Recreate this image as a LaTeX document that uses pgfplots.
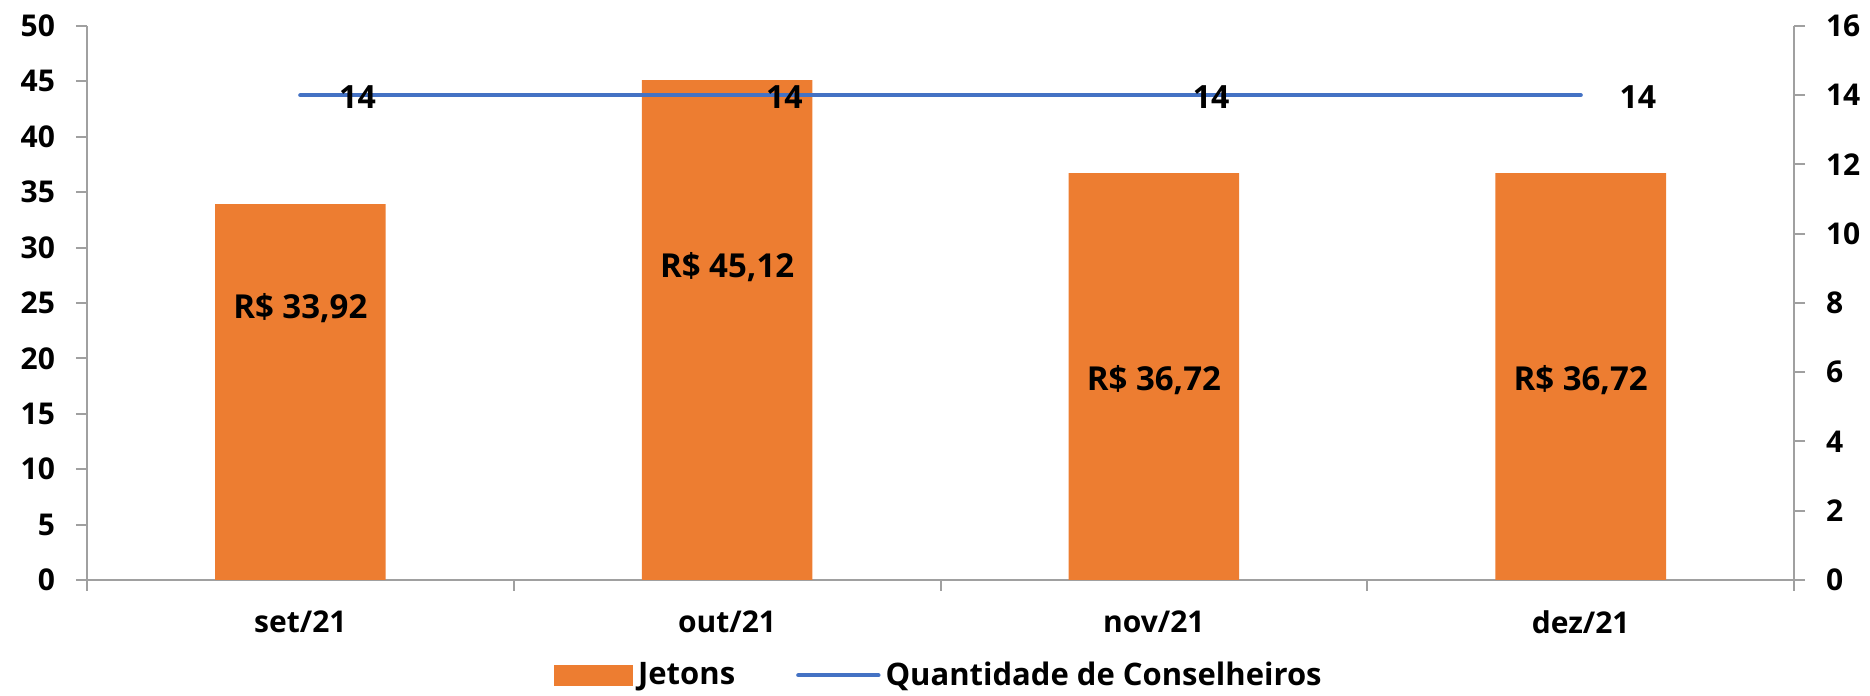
\documentclass[border=0pt]{standalone}
\usepackage{fontspec}
\setmainfont{Open Sans}
\usepackage{pgfplots}
\pgfplotsset{compat=1.18}
\definecolor{barorange}{HTML}{ED7D31}
\definecolor{lineblue}{HTML}{4472C4}
\definecolor{axgray}{HTML}{A0A0A0}

\begin{document}
\begin{tikzpicture}
\pgfplotsset{
  every axis/.append style={
    width=853.5pt, height=277pt, scale only axis,
    xmin=0, xmax=4,
    font=\fontsize{15}{17}\selectfont\bfseries,
    /pgf/number format/assume math mode=true,
    axis line style={axgray, line width=1pt},
    tick style={axgray, line width=1pt},
    tick align=outside,
    major tick length=5.5pt,
  }
}
% bars, left axis
\begin{axis}[
  ymin=0, ymax=50, ytick={0,5,...,50},
  axis y line*=left, axis x line*=bottom,
  xtick={0,1,2,3,4}, xticklabels={,,,,},
  extra x ticks={0.5,1.5,2.5,3.5},
  extra x tick labels={set/21,out/21,nov/21,dez/21},
  extra x tick style={major tick length=0pt, tick label style={yshift=-12pt}},
  yticklabel style={xshift=-7pt},
]
\addplot[ybar, bar width=0.4, fill=barorange, draw=none] coordinates {
  (0.5,33.92) (1.5,45.12) (2.5,36.72) (3.5,36.72)
};
\coordinate (sw) at (rel axis cs:0,0);
\coordinate (ne) at (rel axis cs:1,1);
\begin{scope}[every node/.style={font=\fontsize{16.5}{18}\selectfont\bfseries}]
\node at (axis cs:0.5,24.5) {R\$ 33,92};
\node at (axis cs:1.5,28.2) {R\$ 45,12};
\node at (axis cs:2.5,18.0) {R\$ 36,72};
\node at (axis cs:3.5,18.0) {R\$ 36,72};
\end{scope}
\end{axis}
% line, right axis
\begin{axis}[
  ymin=0, ymax=16, ytick={0,2,...,16},
  axis y line*=right, axis x line=none,
  yticklabel style={xshift=7pt},
  legend style={at={(0.5,-0.172)}, anchor=center, draw=none,
    legend columns=2, font=\fontsize{15.5}{17}\selectfont\bfseries,
    /tikz/every even column/.append style={column sep=28pt},
    nodes={inner xsep=2.5pt, inner ysep=1pt}},
]
\addlegendimage{legend image code/.code={\fill[barorange] (0pt,-5pt) rectangle (39pt,5pt);}}
\addlegendentry{Jetons}
\addplot[lineblue, line width=2.2pt, line cap=round,
  legend image code/.code={\draw[lineblue,line width=2.2pt,line cap=round] (0pt,0pt) -- (40pt,0pt);},
  nodes near coords,
  every node near coord/.append style={black, anchor=west, xshift=15pt, yshift=-1pt,
    font=\fontsize{16}{18}\selectfont\bfseries}]
  coordinates {(0.5,14) (1.5,14) (2.5,14) (3.5,14)};
\addlegendentry{Quantidade de Conselheiros}
\end{axis}
\pgfresetboundingbox
\path ([xshift=-43.5pt,yshift=-58pt]sw) rectangle ([xshift=38pt,yshift=13pt]ne);
\end{tikzpicture}
\end{document}
